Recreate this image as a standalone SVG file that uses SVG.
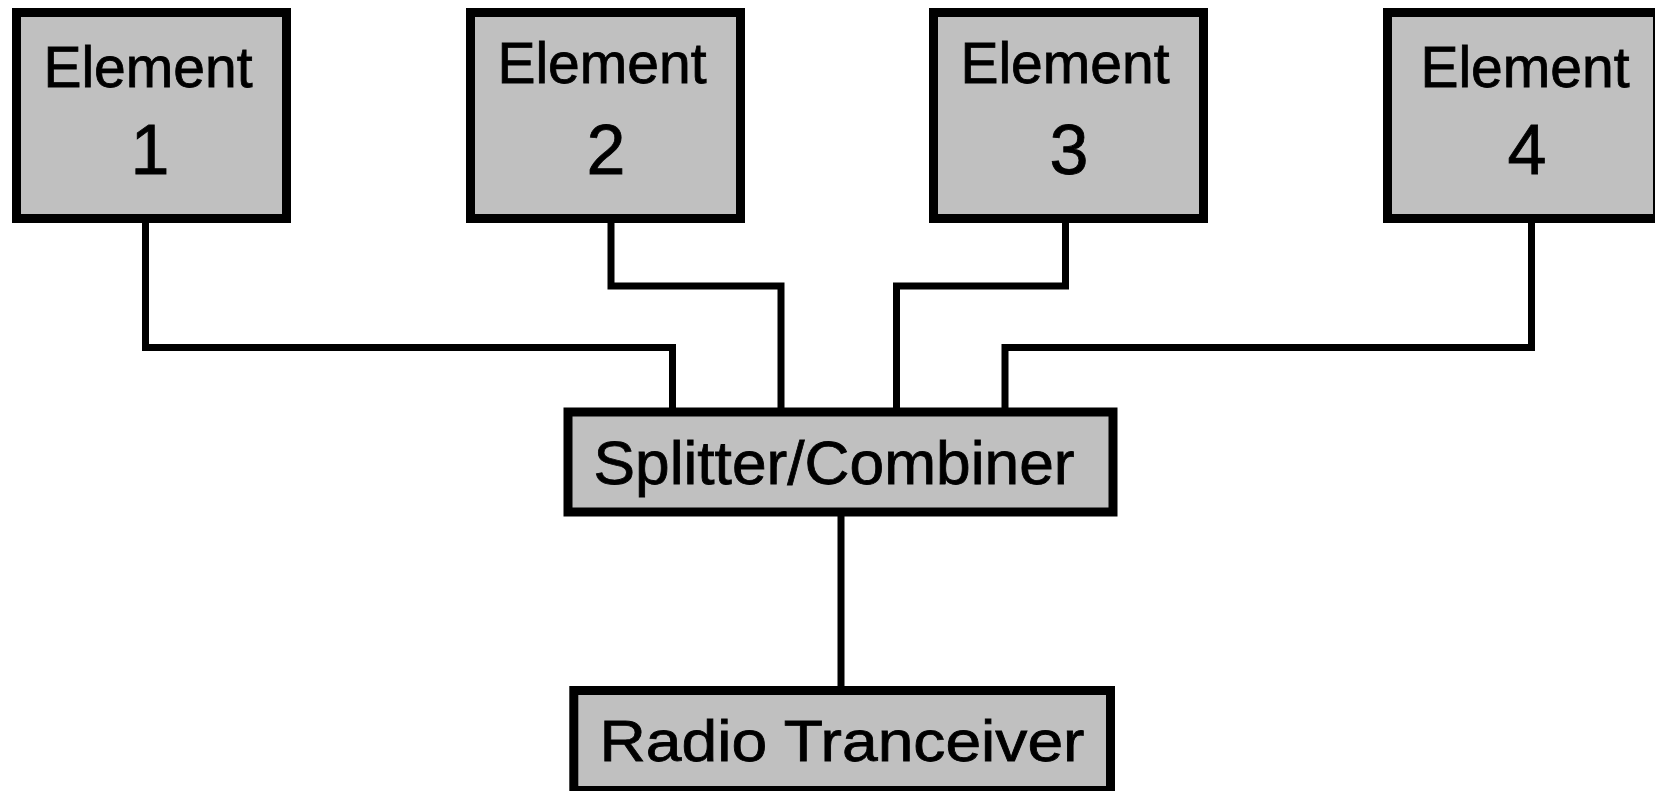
<svg xmlns="http://www.w3.org/2000/svg" width="1655" height="791" viewBox="0 0 1655 791">
<style>
.box{fill:#c0c0c0;stroke:#000;stroke-width:9;stroke-linejoin:miter}
.wire{fill:none;stroke:#000;stroke-width:7;stroke-linejoin:miter;stroke-linecap:butt}
text{font-family:"Liberation Sans",Arial,sans-serif;fill:#000;stroke:#000;stroke-width:0.8;text-anchor:middle}
.lbl{font-size:57px}
.num{font-size:70px}
</style>
<rect x="0" y="0" width="1655" height="791" fill="#fff"/>
<g id="connectors">
<path class="wire" d="M145.5 223 V347.5 H672.5 V412"/>
<path class="wire" d="M611 223 V286 H781 V412"/>
<path class="wire" d="M1065.5 223 V286 H896.5 V412"/>
<path class="wire" d="M1531.5 223 V347.5 H1005 V412"/>
<path class="wire" d="M841 516 V690"/>
</g>
<g id="element1">
<rect class="box" x="16.5" y="12.5" width="270" height="206"/>
<text class="lbl" x="148" y="87">Element</text>
<text class="num" x="150" y="174">1</text>
</g>
<g id="element2">
<rect class="box" x="470.5" y="12.5" width="270" height="206"/>
<text class="lbl" x="602" y="83">Element</text>
<text class="num" x="606" y="174">2</text>
</g>
<g id="element3">
<rect class="box" x="933.5" y="12.5" width="270" height="206"/>
<text class="lbl" x="1065" y="83">Element</text>
<text class="num" x="1069" y="174">3</text>
</g>
<g id="element4">
<rect class="box" x="1387.5" y="12.5" width="270" height="206"/>
<text class="lbl" x="1525" y="87">Element</text>
<text class="num" x="1527" y="174">4</text>
</g>
<g id="splitter">
<rect class="box" x="568" y="412" width="545" height="100"/>
<text x="834" y="484" font-size="61" textLength="481" lengthAdjust="spacingAndGlyphs">Splitter/Combiner</text>
</g>
<g id="radio">
<rect class="box" x="573.8" y="690.5" width="536.7" height="100"/>
<text x="842" y="761" font-size="58" textLength="485" lengthAdjust="spacingAndGlyphs">Radio Tranceiver</text>
</g>
</svg>
